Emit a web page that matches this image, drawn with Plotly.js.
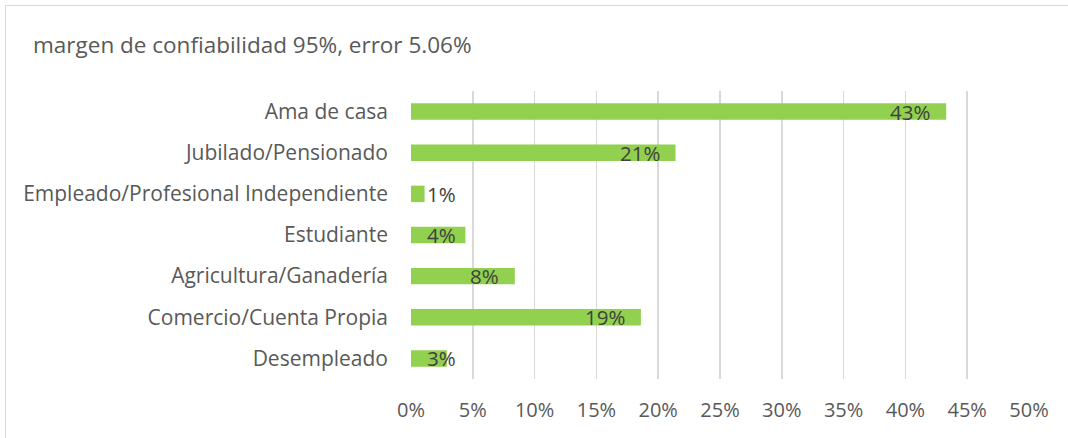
<!DOCTYPE html>
<html>
<head>
<meta charset="utf-8">
<script src="https://cdn.plot.ly/plotly-3.0.1.min.js"></script>
<style>
html,body{margin:0;padding:0;background:#fff;overflow:hidden;}
#wrap{position:relative;width:1068px;height:438px;}
#chart{position:absolute;left:0;top:0;width:1068px;height:438px;}
#frame{position:absolute;left:5px;top:5px;width:1100px;height:500px;border:1px solid #D9D9D9;pointer-events:none;}
</style>
</head>
<body>
<div id="wrap"><div id="chart"></div><div id="frame"></div></div>
<script>
const categories = ["Ama de casa","Jubilado/Pensionado","Empleado/Profesional Independiente","Estudiante","Agricultura/Ganadería","Comercio/Cuenta Propia","Desempleado"];
const values = [43.3, 21.4, 1.1, 4.4, 8.4, 18.6, 2.9];
const tickValues = [0,5,10,15,20,25,30,35,40,45,50];
const tickLabels = ["0%","5%","10%","15%","20%","25%","30%","35%","40%","45%","50%"];
const titleText = "margen de confiabilidad 95%, error 5.06%";

const FONT = "Open Sans, sans-serif";

const annotations = values.map((v, i) => {
  const small = v < 5;
  return {
    x: small ? 0 : v,
    y: categories[i],
    xref: "x", yref: "y",
    text: Math.round(v) + "%",
    showarrow: false,
    xanchor: small ? "left" : "right",
    xshift: small ? 14 : -14,
    font: {family: FONT, size: 20.5, color: "#404040"}
  };
});

const trace = {
  type: "bar",
  orientation: "h",
  x: values,
  y: categories,
  marker: {color: "#92D050"},
  hoverinfo: "none"
};

const layout = {
  width: 1068, height: 438,
  margin: {l: 411, r: 39, t: 91, b: 59, pad: 0},
  paper_bgcolor: "#ffffff",
  plot_bgcolor: "#ffffff",
  showlegend: false,
  bargap: 0.6,
  title: {
    text: titleText,
    x: 0, xref: "container", xanchor: "left",
    pad: {l: 33},
    y: 0.897, yref: "container", yanchor: "middle",
    font: {family: FONT, size: 22.5, color: "#595959"}
  },
  xaxis: {
    range: [0, 50],
    tickvals: tickValues,
    ticktext: tickLabels,
    showgrid: true,
    gridcolor: "#D9D9D9",
    gridwidth: 1.5,
    zeroline: false,
    showline: false,
    ticks: "",
    ticklabelstandoff: 17,
    tickfont: {family: FONT, size: 20, color: "#595959"},
    fixedrange: true
  },
  yaxis: {
    autorange: "reversed",
    showgrid: false,
    zeroline: false,
    showline: false,
    ticks: "",
    ticklabelstandoff: 22,
    tickfont: {family: FONT, size: 21, color: "#595959"},
    fixedrange: true
  },
  annotations: annotations
};

Plotly.newPlot("chart", [trace], layout, {staticPlot: true, displayModeBar: false});
</script>
</body>
</html>
